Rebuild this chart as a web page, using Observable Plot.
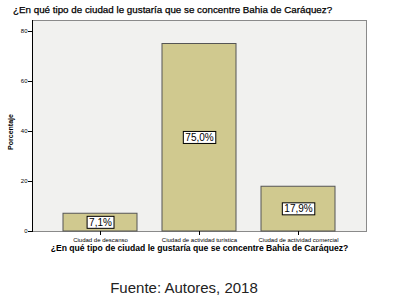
<!DOCTYPE html>
<html>
<head>
<meta charset="utf-8">
<script src="https://cdn.jsdelivr.net/npm/d3@7"></script>
<script src="https://cdn.jsdelivr.net/npm/@observablehq/plot@0.6"></script>
<style>
  body { margin: 0; background: #fff; }
  #wrap { position: relative; width: 397px; height: 303px; font-family: "Liberation Sans", Arial, sans-serif; }
  #title { position: absolute; left: 13px; top: 4px; font-size: 9.8px; color: #000; white-space: nowrap; -webkit-text-stroke: 0.25px #000; }
  #caption { position: absolute; left: 0; width: 368px; text-align: center; top: 279px; font-size: 15px; color: #222; white-space: nowrap; }
  #chart { position: absolute; left: 0; top: 0; }
</style>
</head>
<body>
<div id="wrap">
  <div id="chart"></div>
  <div id="title">¿En qué tipo de ciudad le gustaría que se concentre Bahia de Caráquez?</div>
  <div id="caption">Fuente: Autores, 2018</div>
</div>
<script>
const categories = ["Ciudad de descanso", "Ciudad de actividad turística", "Ciudad de actividad comercial"];
const values = [7.1, 75.0, 17.9];
const yTicks = [0, 20, 40, 60, 80];
const xTitle = "¿En qué tipo de ciudad le gustaría que se concentre Bahia de Caráquez?";
const yTitle = "Porcentaje";

const data = categories.map((c, i) => ({cat: c, val: values[i]}));
const fmt = v => v.toFixed(1).replace(".", ",") + "%";

const chart = Plot.plot({
  width: 397,
  height: 303,
  marginTop: 20,
  marginBottom: 72,
  marginLeft: 32,
  marginRight: 31,
  style: {fontFamily: "'Liberation Sans', Arial, sans-serif", background: "transparent", color: "#000"},
  x: {domain: categories, paddingInner: 0.25, paddingOuter: 0.3, label: null},
  y: {domain: [0, 84.4], label: null},
  marks: [
    Plot.frame({fill: "#f1f1ef", stroke: "#8a8a8a"}),
    Plot.barY(data, {x: "cat", y: "val", fill: "#d0c98f", stroke: "#555", strokeWidth: 1}),
    Plot.axisY({ticks: yTicks, tickSize: 4, tickPadding: 1, fontSize: 6, label: null, stroke: "#000"}),
    Plot.axisX({tickSize: 4, tickPadding: 2, fontSize: 6, label: null, stroke: "#000"}),
    Plot.frame({anchor: "left", stroke: "#000"}),
    Plot.text(data, {x: "cat", y: d => d.val / 2, text: d => fmt(d.val), fontSize: 10, fill: "#000", className: "vlab"}),
    Plot.text([xTitle], {frameAnchor: "bottom", dy: 19.5, fontSize: 8.6, fontWeight: "bold", fill: "#000"}),
    Plot.text([yTitle], {frameAnchor: "left", dx: -22, dy: 6, rotate: -90, textAnchor: "middle", fontSize: 7, fontWeight: "bold", fill: "#000"})
  ]
});
document.getElementById("chart").appendChild(chart);

// white boxes behind value labels
d3.select(chart).selectAll("g.vlab text").each(function() {
  const b = this.getBBox();
  const r = document.createElementNS("http://www.w3.org/2000/svg", "rect");
  r.setAttribute("x", b.x - 2);
  r.setAttribute("y", b.y - 0.5);
  r.setAttribute("width", b.width + 4);
  r.setAttribute("height", b.height + 1);
  r.setAttribute("fill", "#fff");
  r.setAttribute("stroke", "#000");
  r.setAttribute("stroke-width", "1");
  const t = this.getAttribute("transform");
  if (t) r.setAttribute("transform", t);
  this.parentNode.insertBefore(r, this);
});
</script>
</body>
</html>
